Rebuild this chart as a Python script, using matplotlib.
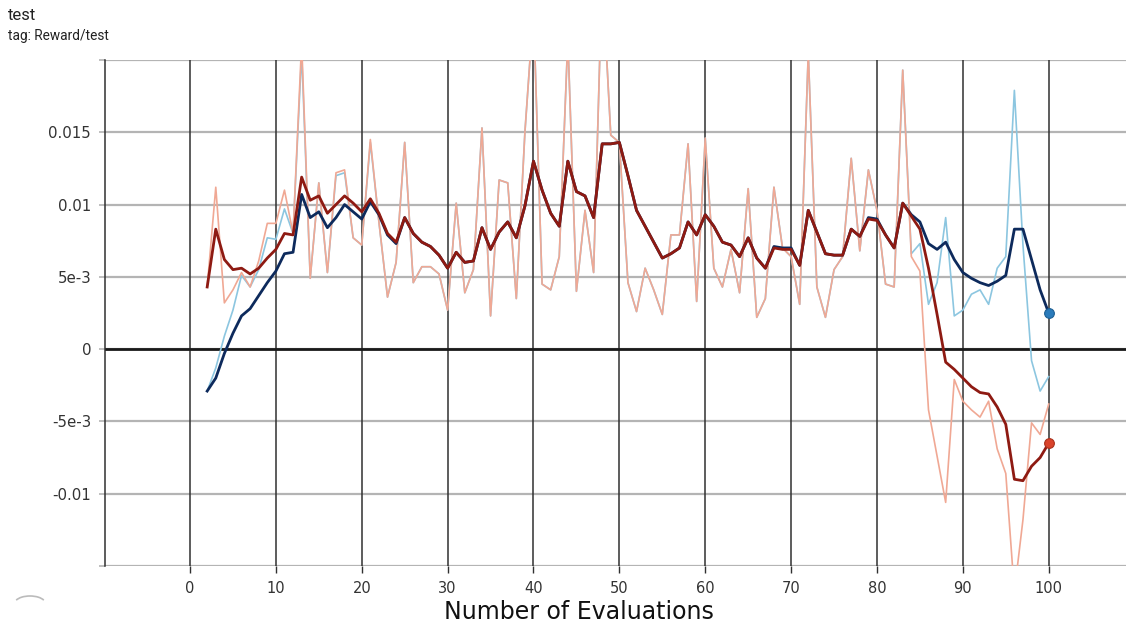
import matplotlib
matplotlib.use("Agg")
import matplotlib.pyplot as plt
from matplotlib.patches import Arc

# ---------------- data ----------------
steps = list(range(2, 101))

raw_red = [
    0.0043, 0.0112, 0.0032, 0.0041, 0.0053, 0.0043, 0.0061, 0.0087, 0.0087, 0.0110,   # 2-11
    0.0080, 0.0212, 0.0049, 0.0115, 0.0053, 0.0122, 0.0124, 0.0077, 0.0072, 0.0145,   # 12-21
    0.0088, 0.0036, 0.0060, 0.0143, 0.0046, 0.0057, 0.0057, 0.0052, 0.0027, 0.0101,   # 22-31
    0.0039, 0.0055, 0.0153, 0.0023, 0.0117, 0.0115, 0.0035, 0.0150, 0.0235, 0.0045,   # 32-41
    0.0041, 0.0064, 0.0215, 0.0040, 0.0096, 0.0053, 0.0260, 0.0148, 0.0143, 0.0046,   # 42-51
    0.0026, 0.0056, 0.0041, 0.0024, 0.0079, 0.0079, 0.0142, 0.0033, 0.0146, 0.0056,   # 52-61
    0.0043, 0.0069, 0.0039, 0.0111, 0.0022, 0.0035, 0.0112, 0.0070, 0.0064, 0.0031,   # 62-71
    0.0205, 0.0043, 0.0022, 0.0055, 0.0064, 0.0132, 0.0068, 0.0124, 0.0096, 0.0045,   # 72-81
    0.0043, 0.0193, 0.0064, 0.0054, -0.0042, -0.0074, -0.0106, -0.0021, -0.0036, -0.0042,  # 82-91
    -0.0047, -0.0036, -0.0069, -0.0086, -0.0168, -0.0118, -0.0051, -0.0059, -0.0038,  # 92-100
]

raw_blue = [
    -0.0029, -0.0013, 0.0009, 0.0027, 0.0051, 0.0043, 0.0055, 0.0077, 0.0076, 0.0097,  # 2-11
    0.0080, 0.0205, 0.0049, 0.0115, 0.0053, 0.0120, 0.0122, 0.0077, 0.0072, 0.0143,   # 12-21
    0.0088, 0.0036, 0.0060, 0.0143, 0.0046, 0.0057, 0.0057, 0.0052, 0.0027, 0.0101,   # 22-31
    0.0039, 0.0055, 0.0153, 0.0023, 0.0117, 0.0115, 0.0035, 0.0150, 0.0235, 0.0045,   # 32-41
    0.0041, 0.0064, 0.0215, 0.0040, 0.0096, 0.0053, 0.0260, 0.0148, 0.0143, 0.0046,   # 42-51
    0.0026, 0.0056, 0.0041, 0.0024, 0.0079, 0.0079, 0.0142, 0.0033, 0.0146, 0.0056,   # 52-61
    0.0043, 0.0069, 0.0039, 0.0111, 0.0022, 0.0035, 0.0112, 0.0070, 0.0064, 0.0031,   # 62-71
    0.0205, 0.0043, 0.0022, 0.0055, 0.0064, 0.0132, 0.0068, 0.0124, 0.0096, 0.0045,   # 72-81
    0.0043, 0.0193, 0.0066, 0.0073, 0.0031, 0.0046, 0.0091, 0.0023, 0.0027, 0.0038,   # 82-91
    0.0041, 0.0031, 0.0056, 0.0064, 0.0179, 0.0072, -0.0008, -0.0029, -0.0019,        # 92-100
]

smooth_red = [
    0.0043, 0.0083, 0.0062, 0.0055, 0.0056, 0.0052, 0.0056, 0.0063, 0.0069, 0.0080,   # 2-11
    0.0079, 0.0119, 0.0103, 0.0106, 0.0094, 0.0100, 0.0106, 0.0101, 0.0095, 0.0104,   # 12-21
    0.0094, 0.0080, 0.0074, 0.0091, 0.0080, 0.0074, 0.0071, 0.0065, 0.0056, 0.0067,   # 22-31
    0.0060, 0.0061, 0.0084, 0.0069, 0.0081, 0.0088, 0.0077, 0.0099, 0.0130, 0.0110,   # 32-41
    0.0094, 0.0085, 0.0130, 0.0109, 0.0106, 0.0091, 0.0142, 0.0142, 0.0143, 0.0120,   # 42-51
    0.0096, 0.0085, 0.0074, 0.0063, 0.0066, 0.0070, 0.0088, 0.0079, 0.0093, 0.0085,   # 52-61
    0.0074, 0.0072, 0.0064, 0.0077, 0.0063, 0.0056, 0.0070, 0.0069, 0.0069, 0.0058,   # 62-71
    0.0096, 0.0081, 0.0066, 0.0065, 0.0065, 0.0083, 0.0078, 0.0090, 0.0089, 0.0079,   # 72-81
    0.0070, 0.0101, 0.0092, 0.0083, 0.0056, 0.0024, -0.0009, -0.0014, -0.0020, -0.0026,  # 82-91
    -0.0030, -0.0031, -0.0040, -0.0052, -0.0090, -0.0091, -0.0081, -0.0075, -0.0065,  # 92-100
]

smooth_blue = [
    -0.0029, -0.0020, -0.0003, 0.0011, 0.0023, 0.0028, 0.0037, 0.0046, 0.0054, 0.0066,  # 2-11
    0.0067, 0.0107, 0.0091, 0.0095, 0.0084, 0.0091, 0.0100, 0.0095, 0.0090, 0.0102,   # 12-21
    0.0093, 0.0079, 0.0073, 0.0091, 0.0080, 0.0074, 0.0071, 0.0065, 0.0056, 0.0067,   # 22-31
    0.0060, 0.0061, 0.0084, 0.0069, 0.0081, 0.0088, 0.0077, 0.0099, 0.0130, 0.0110,   # 32-41
    0.0094, 0.0085, 0.0130, 0.0109, 0.0106, 0.0091, 0.0142, 0.0142, 0.0143, 0.0120,   # 42-51
    0.0096, 0.0085, 0.0074, 0.0063, 0.0066, 0.0070, 0.0088, 0.0079, 0.0093, 0.0085,   # 52-61
    0.0074, 0.0072, 0.0064, 0.0077, 0.0063, 0.0056, 0.0071, 0.0070, 0.0070, 0.0058,   # 62-71
    0.0096, 0.0081, 0.0066, 0.0065, 0.0065, 0.0083, 0.0078, 0.0091, 0.0090, 0.0079,   # 72-81
    0.0070, 0.0101, 0.0093, 0.0088, 0.0073, 0.0069, 0.0074, 0.0062, 0.0053, 0.0049,   # 82-91
    0.0046, 0.0044, 0.0047, 0.0051, 0.0083, 0.0083, 0.0062, 0.0041, 0.0025,           # 92-100
]

x_ticks = [0, 10, 20, 30, 40, 50, 60, 70, 80, 90, 100]
y_ticks = [-0.015, -0.01, -0.005, 0, 0.005, 0.01, 0.015, 0.02]
y_tick_labels = ["", "-0.01", "-5e-3", "0", "5e-3", "0.01", "0.015", ""]

title = "test"
subtitle = "tag: Reward/test"
x_label = "Number of Evaluations"

# ---------------- figure ----------------
fig = plt.figure(figsize=(11.26, 6.26), dpi=100)
ax = fig.add_axes([105 / 1126, 1 - 566 / 626, 1 - 105 / 1126, (566 - 60) / 626])

ax.set_xlim(-9.9, 109)
ax.set_ylim(-0.015, 0.02)

# grid
for yv in y_ticks:
    ax.axhline(yv, color="#b4b4b4", lw=1.6, zorder=1)
for xv in x_ticks:
    ax.axvline(xv, color="#303030", lw=1.1, zorder=1)
ax.axhline(0, color="#1a1a1a", lw=2.0, zorder=1.5)

# lines
ax.plot(steps, raw_blue, color="#8cc6e0", lw=1.2, zorder=2)
ax.plot(steps, raw_red, color="#f0a894", lw=1.2, zorder=2.1)
ax.plot(steps, smooth_blue, color="#0d2a5c", lw=2.0, zorder=3)
ax.plot(steps, smooth_red, color="#8e1a12", lw=2.0, zorder=3.1)
ax.plot(steps[-1], smooth_blue[-1], "o", ms=7, color="#2a7bbb",
        mec="#1d5f93", mew=0.8, zorder=4)
ax.plot(steps[-1], smooth_red[-1], "o", ms=7, color="#d9432b",
        mec="#a8301c", mew=0.8, zorder=4)

# spines
for s in ["top", "bottom", "right"]:
    ax.spines[s].set_visible(False)
ax.spines["left"].set_color("#303030")
ax.spines["left"].set_linewidth(1.1)

ax.set_xticks(x_ticks)
ax.set_xticklabels([str(v) for v in x_ticks])
ax.set_yticks(y_ticks)
ax.set_yticklabels(y_tick_labels)
ax.tick_params(axis="y", length=4, width=1.2, color="#b4b4b4",
               labelsize=10.8, labelcolor="#333333", pad=6)
ax.tick_params(axis="x", length=5, width=1.0, color="#303030",
               labelsize=10.5, labelcolor="#333333", pad=6)
for lab in ax.get_xticklabels() + ax.get_yticklabels():
    lab.set_family("DejaVu Sans")

fig.text(579 / 1126, 1 - 612 / 626, x_label, ha="center", va="center",
         fontsize=17, color="#111111", family="DejaVu Sans")

fig.text(8 / 1126, 1 - 15 / 626, title, ha="left", va="center",
         fontsize=12, color="#222222", family="Roboto")
fig.text(8 / 1126, 1 - 36 / 626, subtitle, ha="left", va="center",
         fontsize=9.8, color="#222222", family="Roboto")

# little gray arc in the lower-left corner
arc = Arc((30 / 1126, 1 - 603 / 626), 30 / 1126, 14 / 626, theta1=20, theta2=160,
          transform=fig.transFigure, color="#bbbbbb", lw=1.2)
fig.add_artist(arc)

fig.savefig("out.png", dpi=100, facecolor="white")
